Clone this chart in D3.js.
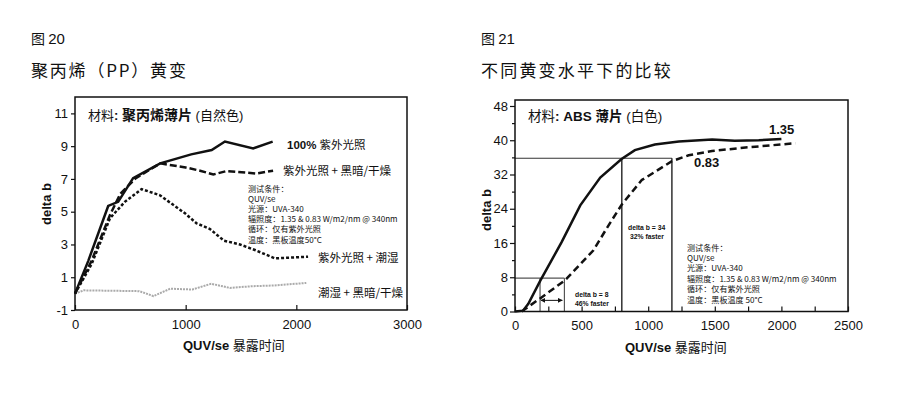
<!DOCTYPE html>
<html>
<head>
<meta charset="utf-8">
<script src="https://cdn.jsdelivr.net/npm/d3@7"></script>
<style>
  body { margin: 0; background: #fff; }
  svg { display: block; }
  text { fill: #111; }
  .cjk { font-family: "Noto Sans CJK SC", sans-serif; }
  .lat { font-family: "Liberation Sans", Arial, sans-serif; }
</style>
</head>
<body>
<div id="chart"></div>
<script>
// figure 20 - PP yellowing, delta b vs exposure hours
var ppUV100 = [[0,0],[120,2],[300,5.35],[390,5.6],[525,7.05],[770,7.95],[1050,8.5],[1235,8.76],[1355,9.28],[1610,8.86],[1786,9.28]];
var ppUVDark = [[0,0],[150,2],[316,4.8],[410,6.1],[550,7.05],[770,7.95],[1000,7.7],[1130,7.5],[1250,7.27],[1370,7.48],[1640,7.33],[1790,7.5]];
var ppUVHumid = [[0,0],[150,1.8],[316,4.6],[450,5.6],[602,6.38],[768,6.0],[994,4.9],[1099,4.29],[1220,3.94],[1346,3.23],[1491,3.0],[1626,2.66],[1807,2.15],[2106,2.25]];
var ppHumidDark = [[0,0],[80,0.2],[580,0.15],[710,-0.15],[860,0.3],[1060,0.25],[1230,0.6],[1400,0.35],[1600,0.45],[1800,0.5],[2090,0.65]];
var ppXTicks = [0, 1000, 2000, 3000];
var ppYTicks = [-1, 1, 3, 5, 7, 9, 11];

// figure 21 - ABS at two irradiance levels
var absHigh = [[0,0],[60,0.2],[100,1.8],[190,7.2],[350,16.2],[490,24.8],[640,31.3],[800,35.6],[900,37.7],[1050,39],[1230,39.7],[1480,40.2],[1650,39.9],[1830,40],[2000,40.3]];
var absLow = [[50,0],[186,3],[376,7.3],[589,14.3],[690,19.5],[802,25],[952,30.7],[1178,35.1],[1304,36.5],[1479,37.5],[1730,38.3],[2106,39.3]];
var absXTicks = [0, 500, 1000, 1500, 2000, 2500];
var absXMinor = [250, 750, 1250, 1750, 2250];
var absYTicks = [0, 8, 16, 24, 32, 40, 48];
var absYMinor = [4, 12, 20, 28, 36, 44];
var refLevels = [7.8, 35.8];     // horizontal guide lines
var lowTimes = [188, 371];       // delta b = 8 crossings
var highTimes = [802, 1178];     // delta b = 34 crossings
var arrowSpan = [195, 355, 2.6];

var conditionsPP = ["测试条件：", "QUV/se", "光源：UVA-340", "辐照度：1.35 & 0.83 W/m2/nm @ 340nm", "循环：仅有紫外光照", "温度：黑板温度50°C"];
var conditionsABS = ["测试条件：", "QUV/se", "光源：UVA-340", "辐照度：1.35 & 0.83 W/m2/nm @ 340nm", "循环：仅有紫外光照", "温度：黑板温度 50°C"];

var plain = function(d) { return String(d); };

var svg = d3.select("#chart")
  .append("svg")
    .attr("width", 920)
    .attr("height", 397);

var defs = svg.append("defs");
["arrowEnd", "arrowStart"].forEach(function(id, i) {
  defs.append("marker")
    .attr("id", id)
    .attr("viewBox", "0 0 10 10")
    .attr("refX", 9).attr("refY", 5)
    .attr("markerWidth", 5).attr("markerHeight", 5)
    .attr("orient", i == 0 ? "auto" : "auto-start-reverse")
    .append("path")
      .attr("d", "M0,0 L10,5 L0,10 Z")
      .attr("fill", "#111");
});

// ---------- titles ----------
function title(x, fig, name, spacing) {
  var t = svg.append("text").attr("x", x).attr("y", 44);
  t.append("tspan").attr("class", "cjk").attr("font-size", 14).text("图 ");
  t.append("tspan").attr("class", "lat").attr("font-size", 15).text(fig);
  svg.append("text")
    .attr("class", "cjk")
    .attr("x", x).attr("y", 77)
    .attr("font-size", 17)
    .attr("letter-spacing", spacing)
    .text(name);
}
title(31, "20", "聚丙烯（PP）黄变", 1.8);
title(481, "21", "不同黄变水平下的比较", 2.2);

// ---------- chart 20 ----------
var x1 = d3.scaleLinear().domain([0, 3000]).range([75, 407]);
var y1 = d3.scaleLinear().domain([-1, 12]).range([310, 97]);

var g1 = svg.append("g");

g1.append("g")
  .attr("transform", "translate(75,0)")
  .call(d3.axisLeft(y1).tickValues(ppYTicks).tickFormat(plain).tickSize(4).tickPadding(3))
  .call(function(g) { g.select(".domain").remove(); });

g1.append("g")
  .attr("transform", "translate(0,310)")
  .call(d3.axisBottom(x1).tickValues(ppXTicks).tickFormat(plain).tickSizeInner(-5).tickSizeOuter(0).tickPadding(10))
  .call(function(g) { g.select(".domain").remove(); });

var line1 = d3.line()
  .x(function(d) { return x1(d[0]); })
  .y(function(d) { return y1(d[1]); });

g1.append("path").datum(ppHumidDark)
  .attr("d", line1).attr("fill", "none")
  .attr("stroke", "#aaa").attr("stroke-width", 2).attr("stroke-dasharray", "2,1");
g1.append("path").datum(ppUVHumid)
  .attr("d", line1).attr("fill", "none")
  .attr("stroke", "#111").attr("stroke-width", 2.5).attr("stroke-dasharray", "3,2");
g1.append("path").datum(ppUVDark)
  .attr("d", line1).attr("fill", "none")
  .attr("stroke", "#111").attr("stroke-width", 2.5).attr("stroke-dasharray", "7,3");
g1.append("path").datum(ppUV100)
  .attr("d", line1).attr("fill", "none")
  .attr("stroke", "#111").attr("stroke-width", 2.5);

g1.append("rect")
  .attr("x", 75).attr("y", 97)
  .attr("width", 332).attr("height", 213)
  .attr("fill", "none").attr("stroke", "#111").attr("stroke-width", 1.5);

var mat1 = g1.append("text").attr("x", 88).attr("y", 120).attr("font-size", 13);
mat1.append("tspan").attr("class", "cjk").text("材料");
mat1.append("tspan").attr("class", "lat").attr("font-weight", "bold").text(": ");
mat1.append("tspan").attr("class", "cjk").attr("font-weight", "bold").attr("font-size", 14).text("聚丙烯薄片");
mat1.append("tspan").attr("class", "lat").text(" (");
mat1.append("tspan").attr("class", "cjk").text("自然色");
mat1.append("tspan").attr("class", "lat").text(")");

var lab1 = g1.append("text").attr("x", 287).attr("y", 149).attr("font-size", 11.5);
lab1.append("tspan").attr("class", "lat").attr("font-weight", "bold").text("100% ");
lab1.append("tspan").attr("class", "cjk").text("紫外光照");

g1.append("text").attr("class", "cjk").attr("x", 283).attr("y", 175).attr("font-size", 11.5).text("紫外光照 + 黑暗/干燥");
g1.append("text").attr("class", "cjk").attr("x", 318).attr("y", 262).attr("font-size", 11.5).text("紫外光照 + 潮湿");
g1.append("text").attr("class", "cjk").attr("x", 318).attr("y", 297).attr("font-size", 11.5).text("潮湿 + 黑暗/干燥");

g1.selectAll(".cond")
  .data(conditionsPP)
  .enter().append("text")
    .attr("class", "cjk")
    .attr("x", 248)
    .attr("y", function(d, i) { return 191.5 + i * 10.2; })
    .attr("font-size", 8.1)
    .text(function(d) { return d; });

g1.append("text")
  .attr("class", "lat")
  .attr("transform", "translate(51,204) rotate(-90)")
  .attr("text-anchor", "middle")
  .attr("font-size", 13).attr("font-weight", "bold")
  .text("delta b");

var xl1 = g1.append("text").attr("x", 183).attr("y", 350).attr("font-size", 13);
xl1.append("tspan").attr("class", "lat").attr("font-weight", "bold").text("QUV/se ");
xl1.append("tspan").attr("class", "cjk").text("暴露时间");

// ---------- chart 21 ----------
var x2 = d3.scaleLinear().domain([0, 2500]).range([515, 848]);
var y2 = d3.scaleLinear().domain([0, 49.4]).range([311.5, 100]);

var g2 = svg.append("g");

g2.append("g")
  .attr("transform", "translate(515,0)")
  .call(d3.axisLeft(y2).tickValues(absYTicks).tickFormat(plain).tickSize(5).tickPadding(2))
  .call(function(g) { g.select(".domain").remove(); });
g2.append("g")
  .attr("transform", "translate(515,0)")
  .call(d3.axisLeft(y2).tickValues(absYMinor).tickSize(3).tickFormat(""))
  .call(function(g) { g.select(".domain").remove(); });

g2.append("g")
  .attr("transform", "translate(0,311.5)")
  .call(d3.axisBottom(x2).tickValues(absXTicks).tickFormat(plain).tickSizeInner(-5).tickSizeOuter(0).tickPadding(9))
  .call(function(g) { g.select(".domain").remove(); });
g2.append("g")
  .attr("transform", "translate(0,311.5)")
  .call(d3.axisBottom(x2).tickValues(absXMinor).tickSizeInner(-5).tickSizeOuter(0).tickFormat(""))
  .call(function(g) { g.select(".domain").remove(); });

// guide lines
g2.append("line")
  .attr("x1", x2(0)).attr("x2", x2(highTimes[1]))
  .attr("y1", y2(refLevels[1])).attr("y2", y2(refLevels[1]))
  .attr("stroke", "#333").attr("stroke-width", 1.2);
g2.append("line")
  .attr("x1", x2(0)).attr("x2", x2(lowTimes[1]))
  .attr("y1", y2(refLevels[0])).attr("y2", y2(refLevels[0]))
  .attr("stroke", "#555").attr("stroke-width", 1.2);
g2.selectAll(".vhigh")
  .data(highTimes)
  .enter().append("line")
    .attr("x1", function(d) { return x2(d); }).attr("x2", function(d) { return x2(d); })
    .attr("y1", y2(refLevels[1])).attr("y2", y2(0))
    .attr("stroke", "#111").attr("stroke-width", 1.3);
g2.selectAll(".vlow")
  .data(lowTimes)
  .enter().append("line")
    .attr("x1", function(d) { return x2(d); }).attr("x2", function(d) { return x2(d); })
    .attr("y1", y2(refLevels[0])).attr("y2", y2(0))
    .attr("stroke", "#555").attr("stroke-width", 1.2);

g2.append("line")
  .attr("x1", x2(arrowSpan[0])).attr("x2", x2(arrowSpan[1]))
  .attr("y1", y2(arrowSpan[2])).attr("y2", y2(arrowSpan[2]))
  .attr("stroke", "#111").attr("stroke-width", 1)
  .attr("marker-end", "url(#arrowEnd)")
  .attr("marker-start", "url(#arrowStart)");

var line2 = d3.line()
  .x(function(d) { return x2(d[0]); })
  .y(function(d) { return y2(d[1]); });

g2.append("path").datum(absLow)
  .attr("d", line2).attr("fill", "none")
  .attr("stroke", "#111").attr("stroke-width", 2.5).attr("stroke-dasharray", "7,4");
g2.append("path").datum(absHigh)
  .attr("d", line2).attr("fill", "none")
  .attr("stroke", "#111").attr("stroke-width", 2.5);

g2.append("rect")
  .attr("x", 515).attr("y", 100)
  .attr("width", 333).attr("height", 211.5)
  .attr("fill", "none").attr("stroke", "#111").attr("stroke-width", 1.5);

var mat2 = g2.append("text").attr("x", 528).attr("y", 121).attr("font-size", 13.5);
mat2.append("tspan").attr("class", "cjk").text("材料");
mat2.append("tspan").attr("class", "lat").attr("font-weight", "bold").text(": ABS ");
mat2.append("tspan").attr("class", "cjk").attr("font-weight", "bold").text("薄片");
mat2.append("tspan").attr("class", "lat").text(" (");
mat2.append("tspan").attr("class", "cjk").text("白色");
mat2.append("tspan").attr("class", "lat").text(")");

g2.append("text").attr("class", "lat").attr("x", 769).attr("y", 134)
  .attr("font-size", 13).attr("font-weight", "bold").text("1.35");
g2.append("text").attr("class", "lat").attr("x", 694).attr("y", 167)
  .attr("font-size", 13).attr("font-weight", "bold").text("0.83");

g2.append("text").attr("class", "lat").attr("x", 575).attr("y", 296.5)
  .attr("font-size", 6.8).attr("font-weight", "bold").text("delta b = 8");
g2.append("text").attr("class", "lat").attr("x", 575).attr("y", 305.5)
  .attr("font-size", 6.8).attr("font-weight", "bold").text("46% faster");
g2.append("text").attr("class", "lat").attr("x", 628).attr("y", 230)
  .attr("font-size", 6.8).attr("font-weight", "bold").text("delta b = 34");
g2.append("text").attr("class", "lat").attr("x", 630).attr("y", 239)
  .attr("font-size", 6.8).attr("font-weight", "bold").text("32% faster");

g2.selectAll(".cond")
  .data(conditionsABS)
  .enter().append("text")
    .attr("class", "cjk")
    .attr("x", 687)
    .attr("y", function(d, i) { return 250.5 + i * 10.4; })
    .attr("font-size", 8.1)
    .text(function(d) { return d; });

g2.append("text")
  .attr("class", "lat")
  .attr("transform", "translate(491,210) rotate(-90)")
  .attr("text-anchor", "middle")
  .attr("font-size", 13).attr("font-weight", "bold")
  .text("delta b");

var xl2 = g2.append("text").attr("x", 625).attr("y", 352).attr("font-size", 13);
xl2.append("tspan").attr("class", "lat").attr("font-weight", "bold").text("QUV/se ");
xl2.append("tspan").attr("class", "cjk").text("暴露时间");

// tick label font
svg.selectAll(".tick text")
  .attr("font-family", "Liberation Sans, Arial, sans-serif")
  .attr("font-size", 13)
  .attr("fill", "#111");
svg.selectAll(".tick line").attr("stroke", "#111").attr("stroke-width", 1.2);
</script>
</body>
</html>
